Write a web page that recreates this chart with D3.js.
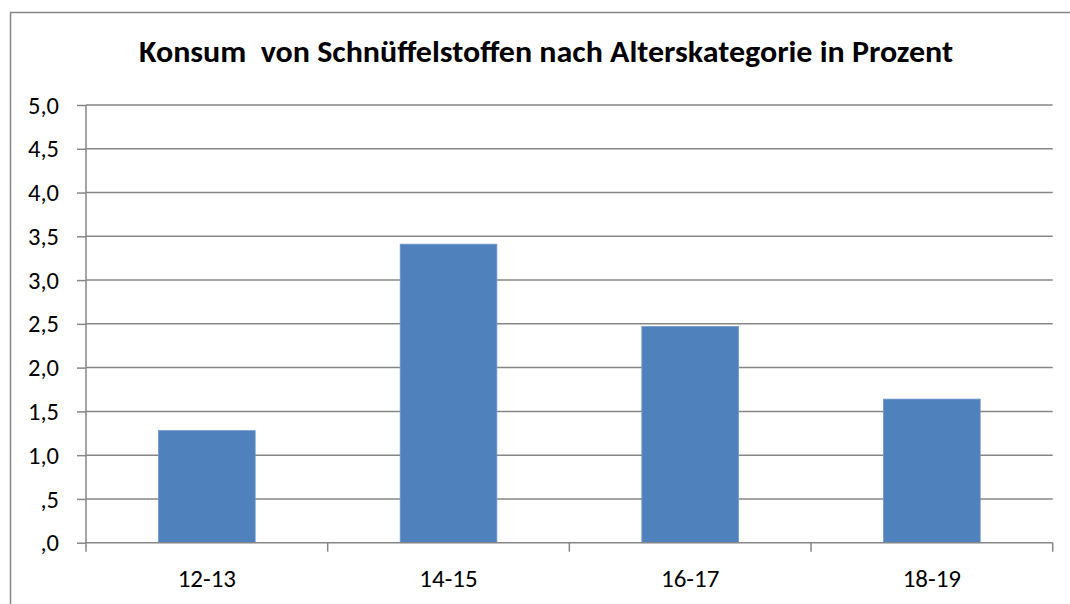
<!DOCTYPE html>
<html><head><meta charset="utf-8">
<script src="https://cdnjs.cloudflare.com/ajax/libs/d3/7.8.5/d3.min.js"></script>
<style>body{margin:0;background:#fff}svg{display:block}</style>
</head><body>
<script>
const title = "Konsum  von Schnüffelstoffen nach Alterskategorie in Prozent";
const categories = ["12-13", "14-15", "16-17", "18-19"];
const values = [1.28, 3.41, 2.47, 1.64];
const yTicks = [0, 0.5, 1, 1.5, 2, 2.5, 3, 3.5, 4, 4.5, 5];

(function () {
const W = 1070, H = 604;
const svg = d3.select("body").append("svg").attr("width", W).attr("height", H);
const font = "Carlito, Lato, 'Open Sans', sans-serif";

svg.append("rect").attr("x", 10.5).attr("y", 12.5).attr("width", 1080).attr("height", 620)
  .attr("fill", "none").attr("stroke", "#868686").attr("stroke-width", 1.5);

const pLeft = 86, pRight = 1052.7, pTop = 105, pBottom = 542.7;
const x = d3.scaleBand().domain(categories).range([pLeft, pRight]).padding(0);
const y = d3.scaleLinear().domain([0, 5]).range([pBottom, pTop]);
const fmt = v => { const s = d3.format(".1f")(v).replace(".", ","); return s.startsWith("0") ? s.slice(1) : s; };

svg.append("g").selectAll("line").data(yTicks.filter(d => d > 0)).join("line")
  .attr("x1", pLeft).attr("x2", pRight).attr("y1", d => y(d)).attr("y2", d => y(d))
  .attr("stroke", "#868686").attr("stroke-width", 1.5);

const ya = svg.append("g").attr("transform", `translate(${pLeft},0)`)
  .call(d3.axisLeft(y).tickValues(yTicks).tickFormat(fmt).tickSize(9).tickPadding(18));
ya.select(".domain").attr("stroke", "#868686").attr("stroke-width", 1.5).attr("d", `M0,${pTop}V${pBottom + 0.5}`);
ya.selectAll(".tick line").attr("stroke", "#868686").attr("stroke-width", 1.5);
ya.selectAll("text").attr("font-family", font).attr("font-size", 24.5).attr("fill", "#000").attr("dy", "0.33em");

const bw = x.bandwidth() * 0.4;
svg.append("g").selectAll("rect").data(values).join("rect")
  .attr("x", (d, i) => x(categories[i]) + (x.bandwidth() - bw) / 2)
  .attr("width", bw)
  .attr("y", d => y(d)).attr("height", d => y(0) - y(d))
  .attr("fill", "#4F81BD").attr("stroke", "#6f97c9").attr("stroke-width", 0.8);

const xa = svg.append("g").attr("transform", `translate(0,${pBottom})`)
  .call(d3.axisBottom(x).tickSize(0).tickPadding(27));
xa.select(".domain").attr("stroke", "#868686").attr("stroke-width", 1.5).attr("d", `M${pLeft},0H${pRight}`);
xa.selectAll("text").attr("font-family", font).attr("font-size", 25).attr("fill", "#000");
const bounds = categories.map(c => x(c)).concat([pRight]);
svg.append("g").selectAll("line").data(bounds).join("line")
  .attr("x1", d => d).attr("x2", d => d).attr("y1", pBottom).attr("y2", pBottom + 9)
  .attr("stroke", "#868686").attr("stroke-width", 1.5);

svg.append("text").attr("x", 546).attr("y", 62).attr("text-anchor", "middle")
  .attr("font-family", font).attr("font-weight", "bold").attr("font-size", 31).attr("fill", "#000")
  .attr("xml:space", "preserve").style("white-space", "pre")
  .attr("textLength", 814).attr("lengthAdjust", "spacingAndGlyphs")
  .text(title);
})();
</script>
</body></html>
